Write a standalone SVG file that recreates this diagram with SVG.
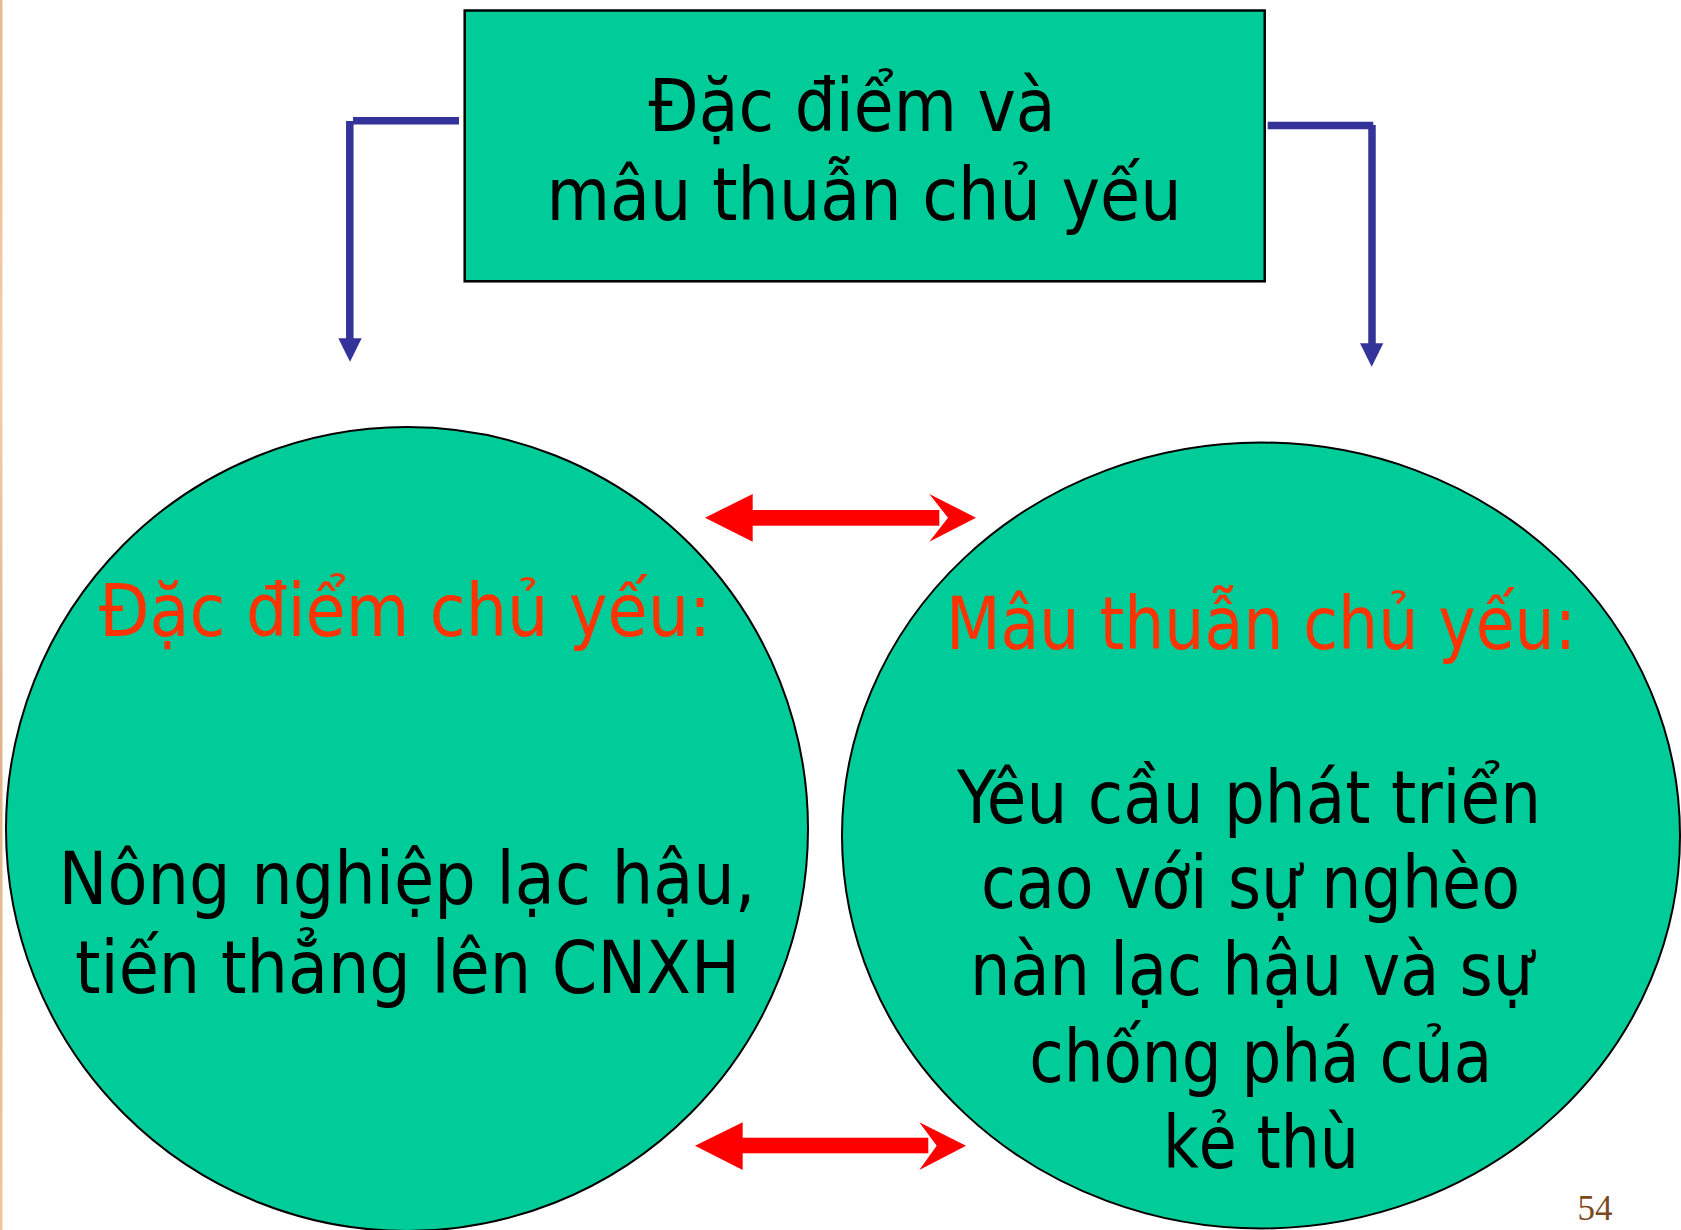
<svg xmlns="http://www.w3.org/2000/svg" width="1681" height="1230" viewBox="0 0 1681 1230">
  <defs>
    <style>
      .node { fill: #00CC99; stroke: #000000; }
      .txt { font-family: "DejaVu Sans Condensed", "DejaVu Sans", "Liberation Sans", sans-serif; font-stretch: condensed; font-size: 73px; text-anchor: middle; }
      .dark { fill: #000000; }
      .red { fill: #FF3300; }
      .link { stroke: #333399; stroke-width: 7.5; fill: none; stroke-linecap: butt; }
      .head { fill: #333399; }
      .rel { fill: #FF0000; }
    </style>
    <linearGradient id="edge" x1="0" y1="0" x2="0" y2="1">
      <stop offset="0" stop-color="#E9B990"/>
      <stop offset="0.3" stop-color="#F4CFA8"/>
      <stop offset="0.6" stop-color="#DDB48C"/>
      <stop offset="1" stop-color="#EFC59C"/>
    </linearGradient>
  </defs>

  <rect x="0" y="0" width="1681" height="1230" fill="#FFFFFF"/>
  <!-- thin tinted strip on the left margin -->
  <rect x="0" y="0" width="2.5" height="1230" fill="url(#edge)"/>

  <!-- top box -->
  <g id="node-top">
    <rect class="node" x="464.7" y="10.5" width="800" height="270.8" stroke-width="2.5"/>
    <text class="txt dark" x="852" y="131" textLength="407" lengthAdjust="spacingAndGlyphs">Đặc điểm và</text>
    <text class="txt dark" x="864" y="220" textLength="635" lengthAdjust="spacingAndGlyphs">mâu thuẫn chủ yếu</text>
  </g>

  <!-- left circle -->
  <g id="node-left">
    <ellipse class="node" cx="407" cy="829" rx="401" ry="402" stroke-width="2"/>
    <text class="txt red" x="405" y="636" textLength="612" lengthAdjust="spacingAndGlyphs">Đặc điểm chủ yếu:</text>
    <text class="txt dark" x="407" y="904" textLength="697" lengthAdjust="spacingAndGlyphs">Nông nghiệp lạc hậu,</text>
    <text class="txt dark" x="407.5" y="993" textLength="665" lengthAdjust="spacingAndGlyphs">tiến thẳng lên CNXH</text>
  </g>

  <!-- right circle -->
  <g id="node-right">
    <ellipse class="node" cx="1261" cy="835.5" rx="419" ry="393" stroke-width="2"/>
    <text class="txt red" x="1261" y="649" textLength="630" lengthAdjust="spacingAndGlyphs">Mâu thuẫn chủ yếu:</text>
    <text class="txt dark" x="1249" y="822.7" textLength="584" lengthAdjust="spacingAndGlyphs">Yêu cầu phát triển</text>
    <text class="txt dark" x="1250.5" y="908.3" textLength="539" lengthAdjust="spacingAndGlyphs">cao với sự nghèo</text>
    <text class="txt dark" x="1251.6" y="995" textLength="563" lengthAdjust="spacingAndGlyphs">nàn lạc hậu và sự</text>
    <text class="txt dark" x="1260.7" y="1081.7" textLength="463" lengthAdjust="spacingAndGlyphs">chống phá của</text>
    <text class="txt dark" x="1261" y="1167.7" textLength="196" lengthAdjust="spacingAndGlyphs">kẻ thù</text>
  </g>

  <!-- connectors -->
  <g id="connectors">
    <!-- box to left circle -->
    <line class="link" x1="459" y1="120.8" x2="353" y2="120.8"/>
    <line class="link" x1="349.8" y1="121" x2="349.8" y2="340"/>
    <polygon class="head" points="338.3,338.3 361.7,338.3 350,361.7"/>
    <!-- box to right circle -->
    <line class="link" x1="1267.7" y1="125.5" x2="1373.3" y2="125.5"/>
    <line class="link" x1="1372" y1="125" x2="1372" y2="345"/>
    <polygon class="head" points="1360,343.3 1383.3,343.3 1371.7,366.7"/>

    <!-- upper double arrow between circles -->
    <polygon class="rel" points="705,517.7 752.7,494 752.7,541.7"/>
    <rect class="rel" x="752" y="510" width="187.3" height="15.7"/>
    <polygon class="rel" points="929.3,494 976,517.7 929.3,541.7 948,517.7"/>

    <!-- lower double arrow between circles -->
    <polygon class="rel" points="695,1145.7 742.7,1122.3 742.7,1170"/>
    <rect class="rel" x="742" y="1137.7" width="186.3" height="15.6"/>
    <polygon class="rel" points="919.3,1122.3 966,1145.7 919.3,1170 936.7,1145.7"/>
  </g>

  <!-- page number -->
  <text x="1595" y="1220" font-family="'Liberation Serif', serif" font-size="35" fill="#7A4A1E" text-anchor="middle">54</text>
</svg>
